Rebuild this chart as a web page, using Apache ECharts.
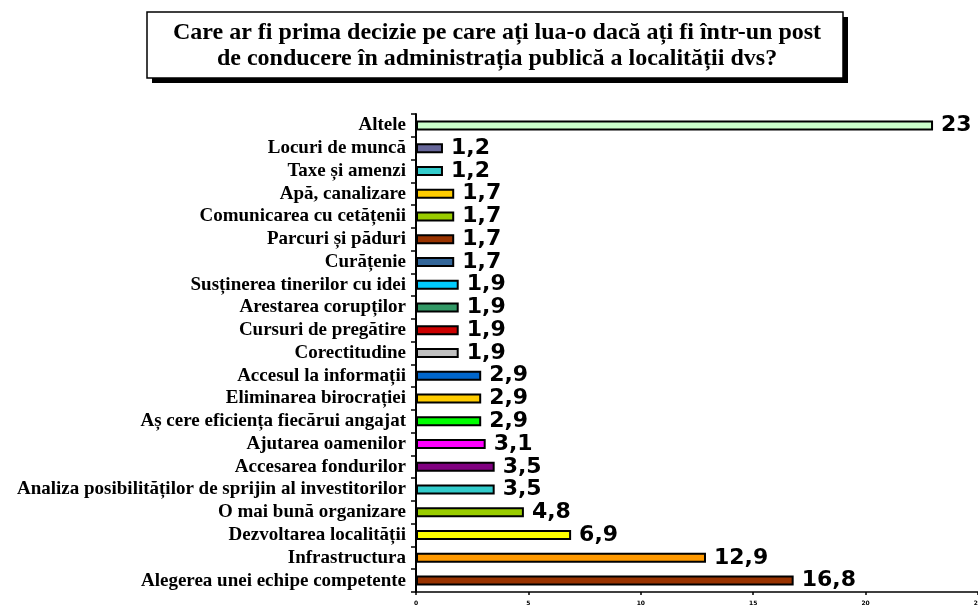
<!DOCTYPE html>
<html>
<head>
<meta charset="utf-8">
<script src="https://cdn.jsdelivr.net/npm/echarts@6/dist/echarts.min.js"></script>
<style>
  html, body { margin: 0; padding: 0; background: #fff; }
  #chart { width: 978px; height: 607px; }
</style>
</head>
<body>
<div id="chart"></div>
<script>
// categories, top to bottom as in the picture
const categories = [
  'Altele',
  'Locuri de muncă',
  'Taxe și amenzi',
  'Apă, canalizare',
  'Comunicarea cu cetățenii',
  'Parcuri și păduri',
  'Curățenie',
  'Susținerea tinerilor cu idei',
  'Arestarea corupților',
  'Cursuri de pregătire',
  'Corectitudine',
  'Accesul la informații',
  'Eliminarea birocrației',
  'Aș cere eficiența fiecărui angajat',
  'Ajutarea oamenilor',
  'Accesarea fondurilor',
  'Analiza posibilităților de sprijin al investitorilor',
  'O mai bună organizare',
  'Dezvoltarea localității',
  'Infrastructura',
  'Alegerea unei echipe competente'
]
const values = [23, 1.2, 1.2, 1.7, 1.7, 1.7, 1.7, 1.9, 1.9, 1.9, 1.9, 2.9, 2.9, 2.9, 3.1, 3.5, 3.5, 4.8, 6.9, 12.9, 16.8]
const barColors = [
  '#ccffcc', '#666699', '#33cccc', '#ffcc00', '#99cc00', '#993300', '#336699',
  '#00ccff', '#339966', '#cc0000', '#c0c0c0', '#0066cc', '#ffcc00', '#00ff00',
  '#ff00ff', '#800080', '#33cccc', '#99cc00', '#ffff00', '#ff9900', '#993300'
]
const xTicks = [0, 5, 10, 15, 20, 25]
const titleLines = [
  'Care ar fi prima decizie pe care ați lua-o dacă ați fi într-un post',
  'de conducere în administrația publică a localității dvs?'
]

const myChart = echarts.init(document.getElementById('chart'))

const option = {
  animation: false,
  graphic: [
    // shadow of the title box
    { type: 'rect', shape: { x: 152, y: 17, width: 696, height: 66 }, style: { fill: '#000' } },
    { type: 'rect', shape: { x: 147, y: 12, width: 696, height: 66 },
      style: { fill: '#fff', stroke: '#000', lineWidth: 1.5 } },
    { type: 'text', x: 497, y: 46,
      style: {
        text: titleLines.join('\n'),
        align: 'center', verticalAlign: 'middle',
        font: 'bold 24px "Liberation Serif", "Times New Roman", serif',
        lineHeight: 26, fill: '#000'
      } }
  ],
  grid: { top: 114, bottom: 15, left: 416, right: 0, outerBoundsMode: 'none' },
  xAxis: {
    type: 'value',
    min: xTicks[0],
    max: xTicks[xTicks.length - 1],
    interval: 5,
    splitLine: { show: false },
    axisLine: { show: true, lineStyle: { color: '#000', width: 1.5 } },
    axisTick: { show: true, length: 3, lineStyle: { color: '#000', width: 1.5 } },
    axisLabel: { fontSize: 6, fontWeight: 'bold', color: '#000', margin: 8, fontFamily: 'Verdana, "DejaVu Sans", sans-serif' }
  },
  yAxis: {
    type: 'category',
    inverse: true,
    data: categories,
    axisLine: { show: true, lineStyle: { color: '#000', width: 2 } },
    axisTick: { show: true, length: 5, lineStyle: { color: '#000', width: 1.5 } },
    axisLabel: {
      interval: 0,
      color: '#000', fontSize: 19, fontWeight: 'bold', margin: 10,
      lineHeight: 20,
      fontFamily: '"Liberation Serif", "Times New Roman", serif'
    }
  },
  series: [{
    type: 'bar',
    data: values.map((v, i) => ({ value: v, itemStyle: { color: barColors[i] } })),
    barWidth: 10,
    itemStyle: { borderColor: '#000', borderWidth: 2 },
    label: {
      show: true,
      position: 'right',
      distance: 8,
      formatter: p => String(p.value).replace('.', ','),
      color: '#000',
      fontSize: 22,
      fontWeight: 'bold',
      fontFamily: 'Verdana, "DejaVu Sans", sans-serif'
    }
  }]
}

myChart.setOption(option)
</script>
</body>
</html>
